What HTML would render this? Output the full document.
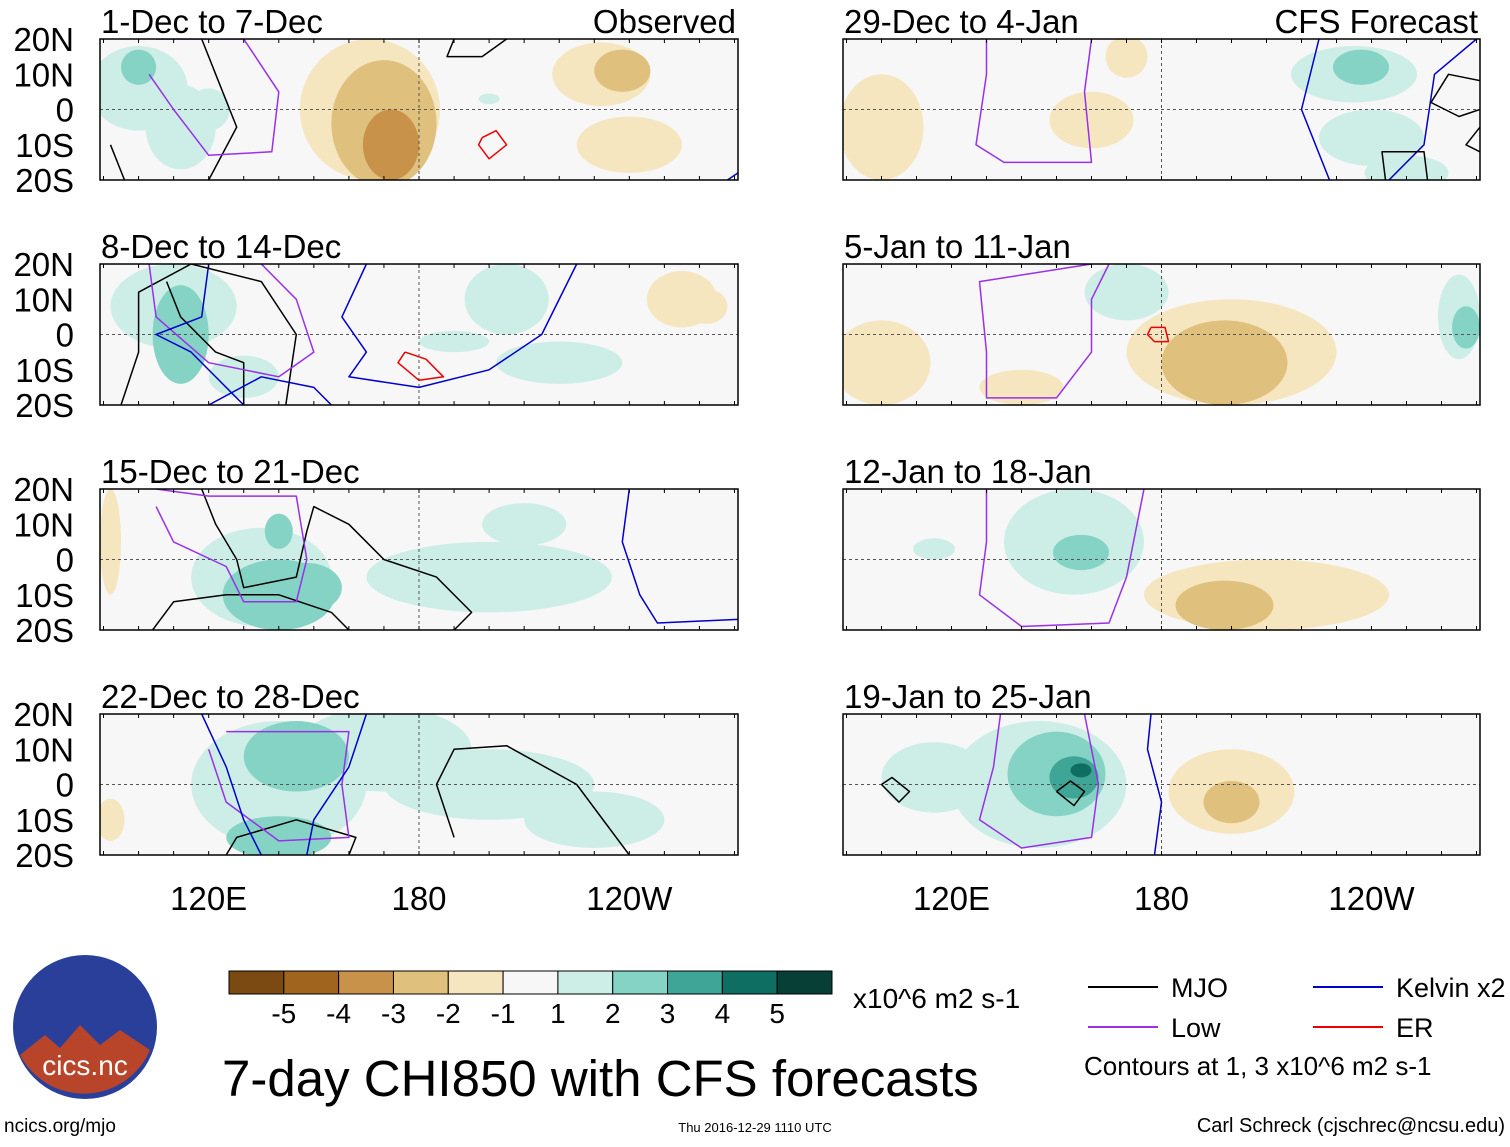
<!DOCTYPE html>
<html><head><meta charset="utf-8">
<style>
body{margin:0;background:#fff;width:1510px;height:1142px;overflow:hidden;font-family:"Liberation Sans",sans-serif}
svg text{font-family:"Liberation Sans",sans-serif}
</style></head>
<body>
<svg id="s" width="1510" height="1142" xmlns="http://www.w3.org/2000/svg"></svg>
<script>
// Colorbar levels and colours
const levelLabels=["-5","-4","-3","-2","-1","1","2","3","4","5"];
const levelColors=["#7a4a12","#a0641e","#c8924a","#dfc07c","#f5e6c0","#f7f7f7","#cdeee6","#84d3c4","#3fa596","#0e6e62","#073f37"];
// Panel titles
const panelTitles=["1-Dec to 7-Dec","8-Dec to 14-Dec","15-Dec to 21-Dec","22-Dec to 28-Dec","29-Dec to 4-Jan","5-Jan to 11-Jan","12-Jan to 18-Jan","19-Jan to 25-Jan"];
const latTicks=["20N","10N","0","10S","20S"];
const lonTicks=[120,180,240];
const lonTickLabels=["120E","180","120W"];
// anomaly blobs: [lon, lat, radius lon, radius lat, colour index]
const blobs=[
 [[100,6,14,12,6],[112,-5,10,12,6],[100,12,5,5,7],[120,0,6,6,6],[166,0,20,20,4],[170,-4,15,18,3],[172,-10,8,10,2],[232,10,14,9,4],[238,11,8,6,3],[240,-10,15,8,4],[200,3,3,1.5,6]],
 [[110,8,18,12,6],[112,0,8,14,7],[130,-12,10,6,6],[205,10,12,10,6],[220,-8,18,6,6],[190,-2,10,3,6],[255,10,10,8,4],[262,8,6,5,4]],
 [[92,5,3,15,4],[135,-5,20,14,6],[140,-10,16,10,7],[148,-8,10,7,7],[200,-5,35,10,6],[210,10,12,6,6],[140,8,4,5,7]],
 [[140,0,25,18,6],[145,8,15,10,7],[140,-15,15,6,7],[170,10,25,12,6],[200,0,30,10,6],[230,-10,20,8,6],[92,-10,4,6,4]],
 [[100,-5,12,15,4],[160,-3,12,8,4],[235,10,18,8,6],[237,12,8,5,7],[240,-8,15,8,6],[250,-18,12,5,6],[170,15,6,6,4]],
 [[100,-8,14,12,4],[140,-15,12,5,4],[200,-5,30,15,4],[198,-8,18,12,3],[170,12,12,8,6],[265,5,6,12,6],[267,2,4,6,7]],
 [[155,5,20,15,6],[157,2,8,5,7],[210,-10,35,10,4],[198,-13,14,7,3],[115,3,6,3,6]],
 [[145,0,25,18,6],[150,3,14,12,7],[155,2,7,6,8],[157,4,3,2,9],[115,2,15,10,6],[200,-2,18,12,4],[200,-5,8,6,3]]
];
// contours: [colour, lon/lat points]
const contours=[
 [["#000",[[118,20],[122,10],[128,-5],[120,-20]]],["#000",[[92,-10],[96,-20]]],["#000",[[190,20],[188,15],[198,15],[205,20]]],["#9a30e8",[[105,20],[130,20],[140,5],[138,-12],[120,-13],[110,0],[103,10]]],["#e00",[[198,-8],[202,-6],[205,-10],[200,-14],[197,-10],[198,-8]]],["#00c",[[268,-20],[271,-18]]]],
 [["#000",[[95,-20],[100,-5],[100,12],[115,20],[135,15],[145,0],[142,-20]]],["#000",[[108,15],[112,5],[122,-5],[130,-8],[130,-20]]],["#9a30e8",[[103,20],[105,5],[120,-8],[140,-12],[150,-5],[145,10],[135,20]]],["#00c",[[120,20],[118,5],[105,0],[115,-5],[130,-20]]],["#00c",[[120,-20],[135,-12],[150,-15],[155,-20]]],["#00c",[[165,20],[158,5],[165,-5],[160,-12],[180,-15],[200,-10],[215,0],[225,20]]],["#e00",[[176,-5],[182,-7],[187,-12],[180,-13],[174,-8],[176,-5]]]],
 [["#000",[[118,20],[122,10],[128,0],[130,-8],[145,-5],[148,8],[150,15],[160,10],[170,0],[185,-5],[195,-15],[190,-20]]],["#000",[[104,-20],[110,-12],[125,-10],[140,-10],[155,-15],[160,-20]]],["#9a30e8",[[105,20],[120,18],[145,18],[148,0],[145,-12],[130,-12],[125,-2],[110,5],[105,15]]],["#00c",[[240,20],[238,5],[243,-10],[248,-18],[271,-17]]]],
 [["#000",[[160,-20],[162,-15],[145,-10],[128,-15],[125,-20]]],["#000",[[190,-15],[185,0],[190,10],[205,11],[225,0],[240,-20]]],["#9a30e8",[[125,15],[160,15],[158,0],[160,-15],[140,-16],[125,-5],[120,10]]],["#00c",[[118,20],[125,5],[130,-10],[135,-20]]],["#00c",[[165,20],[160,5],[150,-10],[148,-20]]]],
 [["#9a30e8",[[130,20],[130,10],[127,-10],[135,-15],[160,-15],[158,5],[160,20]]],["#00c",[[225,20],[220,0],[228,-20]]],["#00c",[[270,20],[258,10],[255,-10],[245,-20]]],["#000",[[272,8],[262,10],[257,2],[265,-2],[271,0]]],["#000",[[244,-20],[243,-12],[255,-12],[256,-20]]],["#000",[[271,-5],[267,-10],[271,-12]]]],
 [["#9a30e8",[[165,20],[160,10],[160,-5],[150,-18],[130,-18],[130,-5],[128,15],[160,20]]],["#e00",[[177,2],[181,2],[182,-2],[178,-2],[176,0],[177,2]]]],
 [["#9a30e8",[[130,20],[130,5],[128,-10],[140,-19],[165,-18],[170,-5],[175,20]]]],
 [["#9a30e8",[[134,20],[132,5],[128,-10],[140,-18],[160,-15],[162,0],[158,20]]],["#000",[[100,0],[105,-5],[108,-2],[103,2],[100,0]]],["#000",[[150,-2],[155,-6],[158,-2],[154,1],[150,-2]]],["#00c",[[177,20],[176,10],[180,-5],[178,-20]]]]
];
const NS="http://www.w3.org/2000/svg";
const svg=document.getElementById('s');
function mk(t,a,p){const e=document.createElementNS(NS,t);for(const k in a)e.setAttribute(k,a[k]);(p||svg).appendChild(e);return e;}
const tops=[39,264,489,714],H=141;
const lefts=[100,843],W=[638,637];
const LON0=89,LON1=271;
for(let p=0;p<8;p++){
  const col=p<4?0:1,row=p%4;
  const x0=lefts[col],w=W[col],y0=tops[row];
  const fx=l=>x0+(l-LON0)*w/(LON1-LON0);
  const fy=la=>y0+(20-la)*H/40;
  const g=mk('g',{});
  
  
  const cid='c'+p;
  const cp=mk('clipPath',{id:cid},g);mk('rect',{x:x0,y:y0,width:w,height:H},cp);
  mk('rect',{x:x0,y:y0,width:w,height:H,fill:'#f7f7f7'},g);
  const inner=mk('g',{'clip-path':'url(#'+cid+')'},g);
  const sorted=blobs[p].slice().sort((a,b)=>Math.abs(a[4]-5)-Math.abs(b[4]-5));
  sorted.forEach(b=>{
    const e=mk('ellipse',{cx:fx(b[0]),cy:fy(b[1]),rx:b[2]*w/(LON1-LON0),ry:b[3]*H/40,fill:levelColors[b[4]]},inner);
    
    
  });
  mk('line',{x1:x0,x2:x0+w,y1:fy(0),y2:fy(0),stroke:'#555','stroke-dasharray':'3,3','stroke-width':1},inner);
  mk('line',{x1:fx(180),x2:fx(180),y1:y0,y2:y0+H,stroke:'#555','stroke-dasharray':'3,3','stroke-width':1},inner);
  contours[p].forEach(c=>{
    const d=c[1].map((q,i)=>(i?'L':'M')+fx(q[0]).toFixed(1)+','+fy(q[1]).toFixed(1)).join(' ');
    const e=mk('path',{d:d,fill:'none',stroke:c[0],'stroke-width':1.5,'stroke-linejoin':'round'},inner);
    
    
  });
  mk('rect',{x:x0,y:y0,width:w,height:H,fill:'none',stroke:'#000','stroke-width':1.5},g);
  for(let l=90;l<=270;l+=10){mk('line',{x1:fx(l),x2:fx(l),y1:y0,y2:y0+4,stroke:'#000'},g);mk('line',{x1:fx(l),x2:fx(l),y1:y0+H,y2:y0+H-4,stroke:'#000'},g);}
  const t=mk('text',{x:x0+1,y:y0-6,'font-size':33,'textLength':null},g);t.removeAttribute('textLength');t.textContent=panelTitles[p];
  
  if(p===0){const o=mk('text',{x:x0+w-2,y:y0-6,'font-size':33,'text-anchor':'end'},g);o.textContent='Observed';}
  if(p===4){const o=mk('text',{x:x0+w-2,y:y0-6,'font-size':33,'text-anchor':'end'},g);o.textContent='CFS Forecast';}
  if(col===0){latTicks.forEach((lt,i)=>{const e=mk('text',{x:74,y:y0+i*H/4+12,'font-size':33,'text-anchor':'end'},g);e.textContent=lt;
    });}
  if(row===3){lonTicks.forEach((l,i)=>{const e=mk('text',{x:fx(l),y:910,'font-size':33,'text-anchor':'middle'},g);e.textContent=lonTickLabels[i];
    });}
}
const cb=mk('g',{});
const bw=603/levelColors.length;
levelColors.forEach((c,i)=>mk('rect',{x:229+i*bw,y:971,width:bw,height:23,fill:c,stroke:'#000','stroke-width':1},cb));
levelLabels.forEach((l,i)=>{const e=mk('text',{x:229+(i+1)*bw,y:1023,'font-size':28,'text-anchor':'middle'},cb);e.textContent=l;});
const u=mk('text',{x:853,y:1008,'font-size':28},cb);u.textContent='x10^6 m2 s-1';
const lg=mk('g',{});
[["#000",1088,987,"MJO"],["#9a30e8",1088,1027,"Low"],["#00c",1313,987,"Kelvin x2"],["#e00",1313,1027,"ER"]].forEach(a=>{
  mk('line',{x1:a[1],x2:a[1]+70,y1:a[2],y2:a[2],stroke:a[0],'stroke-width':2},lg);
  const e=mk('text',{x:a[1]+83,y:a[2]+10,'font-size':27},lg);e.textContent=a[3];
  });
const ct=mk('text',{x:1084,y:1075,'font-size':26},lg);ct.textContent='Contours at 1, 3 x10^6 m2 s-1';
const tt=mk('text',{x:222,y:1096,'font-size':51},svg);tt.textContent='7-day CHI850 with CFS forecasts';

const lo=mk('g',{});
mk('circle',{cx:85,cy:1027,r:72,fill:'#2a3f9a'},lo);
mk('path',{d:'M20,1055 L45,1035 L60,1048 L80,1025 L100,1045 L120,1030 L150,1050 A72,72 0 0 1 20,1055Z',fill:'#b8452a'},lo);
const lt=mk('text',{x:85,y:1075,'font-size':28,fill:'#fff','text-anchor':'middle'},lo);lt.textContent='cics.nc';
const f1=mk('text',{x:4,y:1132,'font-size':19},svg);f1.textContent='ncics.org/mjo';
const f2=mk('text',{x:755,y:1132,'font-size':13,'text-anchor':'middle'},svg);f2.textContent='Thu 2016-12-29 1110 UTC';
const f3=mk('text',{x:1505,y:1132,'font-size':20,'text-anchor':'end'},svg);f3.textContent='Carl Schreck (cjschrec@ncsu.edu)';
</script>
</body></html>
